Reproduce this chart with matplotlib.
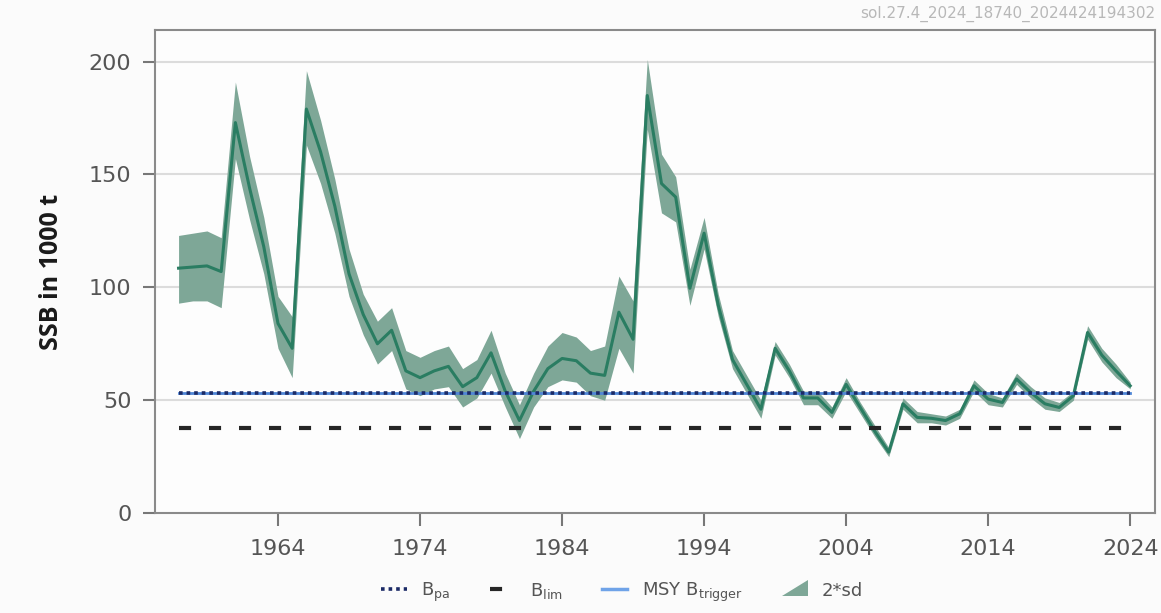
import matplotlib
matplotlib.use("Agg")
import matplotlib.pyplot as plt
from matplotlib.lines import Line2D
from matplotlib.patches import Polygon, Patch
from matplotlib.legend_handler import HandlerPatch

years = list(range(1957, 2025))
ssb = [108.5, 109, 109.5, 107, 173, 144, 118, 84, 73, 179,
       160, 136, 106, 88, 75, 81, 63, 60, 63, 65,
       56, 60, 71, 54, 41, 54, 64, 68.5, 67.5, 62,
       61, 89, 77, 185, 146, 140, 99.6, 124, 92, 68,
       57, 46, 73, 63, 51, 51, 44.6, 57, 46.7, 36.4,
       27, 48.4, 42.4, 42, 41, 44, 56.4, 50.5, 49, 59.4,
       53.4, 48.4, 46.8, 52, 80, 70, 63, 56.4]
ssb_low = [93, 94, 94, 91, 157, 130, 106, 73, 60, 163,
           146, 124, 96, 79, 66, 72, 55, 52, 55, 56,
           47, 51, 62, 47, 33, 47, 56, 59, 58, 52,
           50, 73, 62, 170, 133, 129, 92, 117, 87, 64,
           53, 42, 70, 60, 48, 48, 42, 54, 44, 34,
           25, 46, 40, 40, 39, 42, 54, 48, 47, 57,
           51, 46, 45, 50, 77, 67, 60, 55]
ssb_high = [123, 124, 125, 122, 191, 158, 131, 96, 87, 196,
            174, 148, 117, 97, 85, 91, 72, 69, 72, 74,
            64, 68, 81, 62, 48, 62, 74, 80, 78, 72,
            74, 105, 94, 201, 159, 149, 108, 131, 97, 72,
            61, 50, 76, 66, 54, 54, 47, 60, 49, 39,
            29, 51, 45, 44, 43, 46, 59, 53, 51, 62,
            56, 51, 49, 54, 83, 73, 66, 58]
b_pa = 53
b_lim = 37.5
msy_btrigger = 53
xticks = [1964, 1974, 1984, 1994, 2004, 2014, 2024]
yticks = [0, 50, 100, 150, 200]
stamp = "sol.27.4_2024_18740_2024424194302"

line_col = "#2a7d62"
band_col = "#7ea797"
grey = "#555555"

fig = plt.figure(figsize=(11.61, 6.13), dpi=100)
fig.patch.set_facecolor("#fbfbfb")
ax = fig.add_axes([0.1335, 0.163, 0.8615, 0.788])
ax.set_facecolor("#fdfdfd")

ax.fill_between(years, ssb_low, ssb_high, color=band_col, lw=0, zorder=2)
ax.plot(years, ssb, color=line_col, lw=2.2, zorder=3)

x0, x1 = years[0], years[-1]
ax.plot([x0, x1], [msy_btrigger, msy_btrigger], color="#4f86d6", lw=2.0, zorder=4)
ax.plot([x0, x1], [b_pa, b_pa], color="#1b2a66", lw=2.6, linestyle=(0, (1, 1.1)), zorder=5)
ax.plot([x0, x1], [b_lim, b_lim], color="#262626", lw=3, linestyle=(0, (2.9, 4.3)), zorder=5)

ax.set_xlim(1955.34, 2025.76)
ax.set_ylim(0, 214)
ax.set_xticks(xticks)
ax.set_yticks(yticks)
for y in yticks[1:]:
    ax.axhline(y, color="#dcdcdc", lw=1.5, zorder=1)

for s in ax.spines.values():
    s.set_color("#8a8a8a")
    s.set_linewidth(1.5)
ax.tick_params(axis="both", colors="#777777", labelcolor=grey, labelsize=16,
               length=9, width=1.5, direction="out")
ax.tick_params(axis="x", pad=10)
ax.tick_params(axis="y", pad=8)
ax.set_ylabel("SSB in 1000 t", fontsize=18, fontweight="bold", color="#1a1a1a",
              family="Open Sans", labelpad=18)

fig.text(0.9948, 0.978, stamp, ha="right", va="center", fontsize=11, color="#b8b8b8")


def make_triangle(legend, orig_handle, xdescent, ydescent, width, height, fontsize):
    return Polygon([[-xdescent, -ydescent], [width - xdescent, -ydescent],
                    [width - xdescent, height - ydescent + 2]], closed=True)


handles = [
    Line2D([0], [0], color="#1b2a66", lw=2.6, linestyle=(0, (1, 1.1))),
    Line2D([0], [0], color="#262626", lw=3, linestyle=(0, (2.9, 4.3))),
    Line2D([0], [0], color="#6fa3e8", lw=2.5),
    Patch(facecolor=band_col, edgecolor="none"),
]
labels = [r"B$_{\mathrm{pa}}$", r"B$_{\mathrm{lim}}$", r"MSY B$_{\mathrm{trigger}}$", "2*sd"]
leg = fig.legend(handles, labels, loc="center", bbox_to_anchor=(0.536, 0.034), ncol=4,
                 frameon=False, fontsize=13, handlelength=1.4, columnspacing=2.2,
                 handletextpad=0.8,
                 handler_map={Patch: HandlerPatch(patch_func=make_triangle)})
for t in leg.get_texts():
    t.set_color(grey)

fig.savefig("out.png", dpi=100, facecolor=fig.get_facecolor())
